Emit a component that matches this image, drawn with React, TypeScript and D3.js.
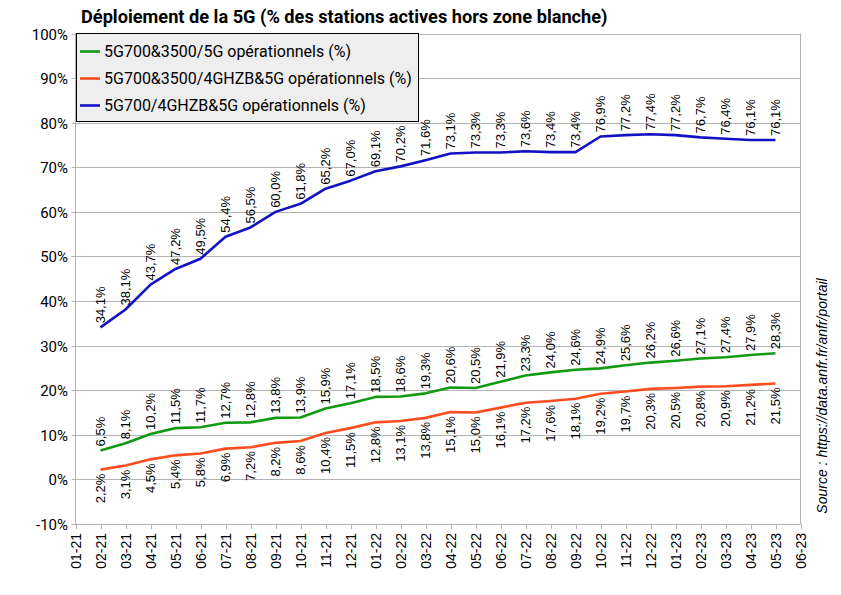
import React from "react";
import * as d3 from "d3";

const months = ["01-21","02-21","03-21","04-21","05-21","06-21","07-21","08-21","09-21","10-21","11-21","12-21","01-22","02-22","03-22","04-22","05-22","06-22","07-22","08-22","09-22","10-22","11-22","12-22","01-23","02-23","03-23","04-23","05-23","06-23"];
const dataMonths = months.slice(1, 29);

const green = [6.5, 8.1, 10.2, 11.5, 11.7, 12.7, 12.8, 13.8, 13.9, 15.9, 17.1, 18.5, 18.6, 19.3, 20.6, 20.5, 21.9, 23.3, 24.0, 24.6, 24.9, 25.6, 26.2, 26.6, 27.1, 27.4, 27.9, 28.3];
const orange = [2.2, 3.1, 4.5, 5.4, 5.8, 6.9, 7.2, 8.2, 8.6, 10.4, 11.5, 12.8, 13.1, 13.8, 15.1, 15.0, 16.1, 17.2, 17.6, 18.1, 19.2, 19.7, 20.3, 20.5, 20.8, 20.9, 21.2, 21.5];
const blue = [34.1, 38.1, 43.7, 47.2, 49.5, 54.4, 56.5, 60.0, 61.8, 65.2, 67.0, 69.1, 70.2, 71.6, 73.1, 73.3, 73.3, 73.6, 73.4, 73.4, 76.9, 77.2, 77.4, 77.2, 76.7, 76.4, 76.1, 76.1];

const yTicks = [-10, 0, 10, 20, 30, 40, 50, 60, 70, 80, 90, 100];

const seriesNames = [
  "5G700&3500/5G opérationnels (%)",
  "5G700&3500/4GHZB&5G opérationnels (%)",
  "5G700/4GHZB&5G opérationnels (%)",
];
const title = "Déploiement de la 5G (% des stations actives hors zone blanche)";
const source = "Source : https://data.anfr.fr/anfr/portail";

const W = 841, H = 595;
const left = 75.5, right = 800.5, top = 33.5, bottom = 524;

const fmt = (v: number) => v.toFixed(1).replace(".", ",") + "%";

export default function App() {
  const x = d3.scalePoint<string>().domain(months).range([left, right]);
  const y = d3.scaleLinear().domain([-10, 100]).range([bottom, top]);
  const line = d3.line<number>().x((_, i) => x(dataMonths[i]) as number).y((d) => y(d));

  const series = [
    { vals: green, color: "#129a12", above: true },
    { vals: orange, color: "#ff4d1f", above: false },
    { vals: blue, color: "#1212c4", above: true },
  ];

  const grid = "#b3b3b3";
  const labelFont = "'Liberation Sans', Arial, sans-serif";
  const roboto = "Roboto, 'Noto Sans', sans-serif";

  return (
    <div style={{ position: "absolute", left: 0, top: 0 }}>
      <svg width={W} height={H} style={{ display: "block", background: "#fff" }}>
        <text x={81} y={23} fontFamily={roboto} fontWeight={700} fontSize={18.2} fill="#000">{title}</text>
        {yTicks.map((t) => (
          <g key={t}>
            <line x1={left - 4} x2={right} y1={Math.round(y(t)) + 0.5} y2={Math.round(y(t)) + 0.5} stroke={grid} strokeWidth={1} />
            <text x={68} y={Math.round(y(t)) + 0.5} dy="0.35em" textAnchor="end" fontFamily={roboto} fontSize={15} fill="#000">{t}%</text>
          </g>
        ))}
        <line x1={left} x2={left} y1={top} y2={bottom} stroke={grid} strokeWidth={1} />
        <line x1={right} x2={right} y1={top} y2={bottom} stroke={grid} strokeWidth={1} />
        {months.map((m) => {
          const xm = Math.round(x(m) as number) + 0.5;
          return (
            <g key={m}>
              <line x1={xm} x2={xm} y1={bottom} y2={bottom + 5} stroke={grid} strokeWidth={1} />
              <text transform={`translate(${xm},${bottom + 9}) rotate(-90)`} dy="0.35em" textAnchor="end" fontFamily={labelFont} fontSize={14} fill="#000">{m}</text>
            </g>
          );
        })}
        {series.map((s, si) => (
          <g key={si}>
            <path d={line(s.vals) || ""} fill="none" stroke={s.color} strokeWidth={2.6} strokeLinejoin="round" />
            {s.vals.map((v, i) => {
              const px = x(dataMonths[i]) as number;
              const py = y(v);
              return (
                <text key={i} transform={`translate(${px},${s.above ? py - 4 : py + 4}) rotate(-90)`} dy="0.35em" textAnchor={s.above ? "start" : "end"} fontFamily={labelFont} fontSize={13} fill="#000">{fmt(v)}</text>
              );
            })}
          </g>
        ))}
        <rect x={76.5} y={33.5} width={342} height={88} fill="#eeeeee" stroke="#000" strokeWidth={1} />
        {series.map((s, i) => {
          const ly = 51.5 + i * 27;
          return (
            <g key={i}>
              <line x1={80} x2={100} y1={ly} y2={ly} stroke={s.color} strokeWidth={2.6} />
              <text x={104} y={ly} dy="0.35em" fontFamily={roboto} fontSize={16} fill="#000">{seriesNames[i]}</text>
            </g>
          );
        })}
        <text transform={`translate(822,${396}) rotate(-90)`} dy="0.35em" textAnchor="middle" fontFamily={labelFont} fontStyle="italic" fontSize={14} fill="#000">{source}</text>
      </svg>
    </div>
  );
}
